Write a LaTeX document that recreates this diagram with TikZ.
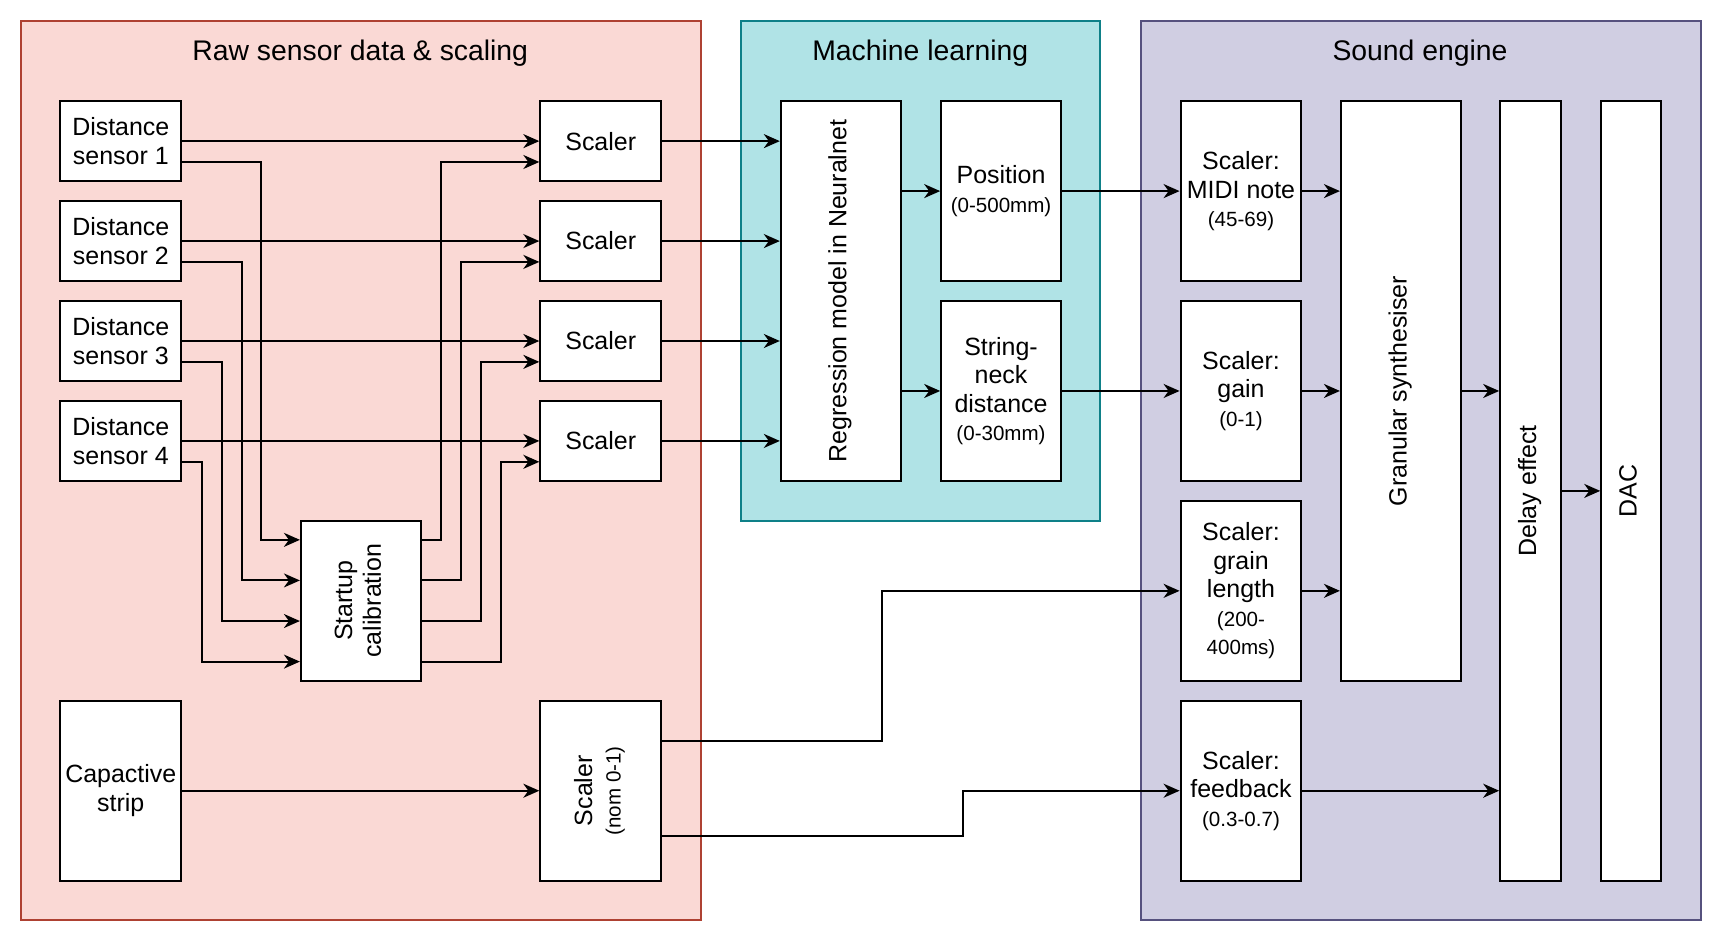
\documentclass[tikz,border=0pt]{standalone}
\usepackage{fontspec}
\usepackage{graphicx}
\setmainfont{Liberation Sans}
\usetikzlibrary{arrows.meta,calc}

\definecolor{rawfill}{HTML}{FAD9D5}
\definecolor{rawline}{HTML}{AE4132}
\definecolor{mlfill}{HTML}{B0E3E6}
\definecolor{mlline}{HTML}{0E8088}
\definecolor{sndfill}{HTML}{D0CEE2}
\definecolor{sndline}{HTML}{56517E}

\newcommand{\px}{0.55pt}
\newcommand{\bx}{\fontsize{12.5}{14.3}\selectfont}
\newcommand{\sm}{\fontsize{10.3}{14.3}\selectfont}
\newcommand{\vtext}[1]{\rotatebox{90}{\begin{tabular}{@{}c@{}}#1\end{tabular}}}

\tikzset{
  blok/.style={draw, fill=white, line width=1pt, align=center, font=\bx, inner sep=1pt},
  arr/.style={-{Stealth[length=8pt,width=7pt,inset=2.5pt]}, line width=1pt},
  ttl/.style={font=\fontsize{14.2}{17}\selectfont},
  panel/.style={line width=1pt}
}

\begin{document}
\begin{tikzpicture}[x=0.55pt, y=-0.55pt]
\useasboundingbox (0,0) rectangle (1568,858);

% groups
\draw[panel, fill=rawfill, draw=rawline] (19,19) rectangle (638,838);
\draw[panel, fill=mlfill, draw=mlline] (675,19) rectangle (1002,474);
\draw[panel, fill=sndfill, draw=sndline] (1039,19) rectangle (1549,838);
\node[ttl] (traw) at (328,48) {Raw sensor data \& scaling};
\node[ttl] (tml) at (838,48) {Machine learning};
\node[ttl] (tsnd) at (1293,48) {Sound engine};

% sensors and scalers
\foreach \i/\y in {1/128.5,2/219.5,3/310.5,4/401.5} {
  \node[blok, minimum width=110*\px, minimum height=73*\px] (s\i) at (110,\y) {Distance\\sensor \i};
  \node[blok, minimum width=110*\px, minimum height=73*\px] (sc\i) at (547,\y) {Scaler};
}
\node[blok, minimum width=109*\px, minimum height=146*\px] (cal) at (328.5,547) {\vtext{Startup\\calibration}};
\node[blok, minimum width=110*\px, minimum height=164*\px] (cap) at (110,720) {Capactive\\strip};
\node[blok, minimum width=110*\px, minimum height=164*\px] (nom) at (547,720) {\vtext{Scaler\\{\sm (nom 0-1)}}};

% machine learning
\node[blok, minimum width=109*\px, minimum height=346*\px] (reg) at (765.5,265) {\vtext{Regression model in Neuralnet}};
\node[blok, minimum width=109*\px, minimum height=164*\px] (pos) at (911.5,174) {Position\\{\sm (0-500mm)}};
\node[blok, minimum width=109*\px, minimum height=164*\px] (neck) at (911.5,356) {String-\\neck\\distance\\{\sm (0-30mm)}};

% sound engine
\node[blok, minimum width=110*\px, minimum height=164*\px] (midi) at (1130,174) {Scaler:\\MIDI note\\{\sm (45-69)}};
\node[blok, minimum width=110*\px, minimum height=164*\px] (gain) at (1130,356) {Scaler:\\gain\\{\sm (0-1)}};
\node[blok, minimum width=110*\px, minimum height=164*\px] (grain) at (1130,538) {Scaler:\\grain\\length\\{\sm (200-}\\{\sm 400ms)}};
\node[blok, minimum width=110*\px, minimum height=164*\px] (fb) at (1130,720) {Scaler:\\feedback\\{\sm (0.3-0.7)}};
\node[blok, minimum width=109*\px, minimum height=528*\px] (gran) at (1275.5,356) {\vtext{Granular synthesiser}};
\node[blok, minimum width=55*\px, minimum height=710*\px] (dly) at (1393.5,447) {\vtext{Delay effect}};
\node[blok, minimum width=54*\px, minimum height=710*\px] (dac) at (1485,447) {\vtext{DAC}};

% sensor wiring
\foreach \i/\d/\f in {1/72/0.125,2/54/0.375,3/36/0.625,4/18/0.875} {
  \draw[arr] (s\i.east) -- (sc\i.west);
  \draw[arr] ($(s\i.east)+(0,19)$) -- ++(\d,0) |- ($(cal.north west)!\f!(cal.south west)$);
  \draw[arr] ($(cal.north east)!\f!(cal.south east)$) -- ++(18*\i,0) |- ($(sc\i.west)+(0,19)$);
  \draw[arr] (sc\i.east) -- (reg.west |- sc\i.east);
}
\draw[arr] (cap) -- (nom);
\draw[arr] ($(nom.north east)!0.225!(nom.south east)$) -- ++(200,0) |- (grain.west);
\draw[arr] ($(nom.north east)!0.75!(nom.south east)$) -- ++(274,0) |- (fb.west);

% ml to sound
\draw[arr] (reg.east |- pos) -- (pos.west);
\draw[arr] (reg.east |- neck) -- (neck.west);
\draw[arr] (pos) -- (midi);
\draw[arr] (neck) -- (gain);
\foreach \n in {midi,gain,grain}
  \draw[arr] (\n.east) -- (gran.west |- \n.east);
\draw[arr] (gran.east) -- (dly.west |- gran.east);
\draw[arr] (fb.east) -- (dly.west |- fb.east);
\draw[arr] (dly) -- (dac);
\end{tikzpicture}
\end{document}
